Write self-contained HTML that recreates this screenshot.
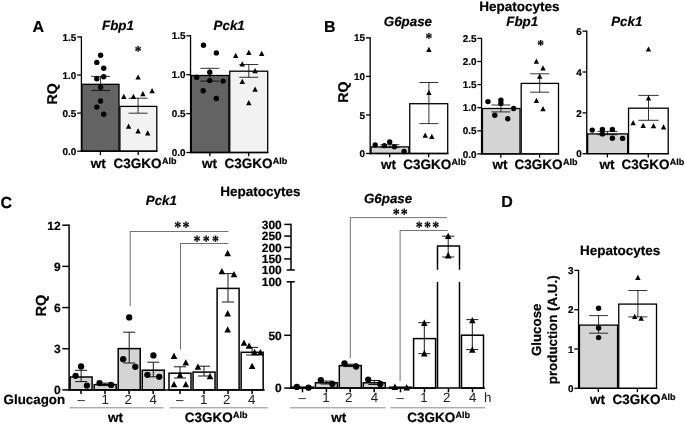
<!DOCTYPE html>
<html lang="en"><head><meta charset="utf-8"><title>Figure</title>
<style>
html,body{margin:0;padding:0;background:#fff;}
svg{display:block;font-family:"Liberation Sans", sans-serif;text-rendering:geometricPrecision;}
text[font-weight=bold]{stroke:#000;stroke-width:0.2px;}
</style></head>
<body>
<svg width="685" height="425" viewBox="0 0 685 425">
<rect x="0" y="0" width="685" height="425" fill="#ffffff"/>
<text x="32.60" y="32.00" font-size="16" font-weight="bold" font-style="normal" text-anchor="start" fill="#000">A</text>
<text x="102.00" y="30.40" font-size="13.33" font-weight="bold" font-style="italic" text-anchor="start" fill="#000">Fbp1</text>
<text transform="translate(56.70,93.80) rotate(-90)" font-size="14.2" font-weight="bold" text-anchor="middle">RQ</text>
<rect x="81.85" y="84.31" width="37.15" height="66.89" fill="#636363" stroke="#000" stroke-width="1.3"/>
<rect x="119.90" y="106.39" width="36.90" height="44.81" fill="#f2f2f2" stroke="#000" stroke-width="1.3"/>
<line x1="81.40" y1="36.32" x2="81.40" y2="151.85" stroke="#000" stroke-width="1.3" stroke-linecap="butt"/>
<line x1="77.20" y1="36.97" x2="81.40" y2="36.97" stroke="#000" stroke-width="1.3" stroke-linecap="butt"/>
<text x="76.30" y="40.62" font-size="9.9" font-weight="bold" font-style="normal" text-anchor="end" fill="#000">1.5</text>
<line x1="77.20" y1="75.05" x2="81.40" y2="75.05" stroke="#000" stroke-width="1.3" stroke-linecap="butt"/>
<text x="76.30" y="78.69" font-size="9.9" font-weight="bold" font-style="normal" text-anchor="end" fill="#000">1.0</text>
<line x1="77.20" y1="113.12" x2="81.40" y2="113.12" stroke="#000" stroke-width="1.3" stroke-linecap="butt"/>
<text x="76.30" y="116.77" font-size="9.9" font-weight="bold" font-style="normal" text-anchor="end" fill="#000">0.5</text>
<line x1="77.20" y1="151.20" x2="81.40" y2="151.20" stroke="#000" stroke-width="1.3" stroke-linecap="butt"/>
<text x="76.30" y="154.84" font-size="9.9" font-weight="bold" font-style="normal" text-anchor="end" fill="#000">0.0</text>
<line x1="80.75" y1="151.20" x2="157.45" y2="151.20" stroke="#000" stroke-width="1.3" stroke-linecap="butt"/>
<line x1="100.40" y1="151.20" x2="100.40" y2="155.00" stroke="#000" stroke-width="1.3" stroke-linecap="butt"/>
<line x1="138.20" y1="151.20" x2="138.20" y2="155.00" stroke="#000" stroke-width="1.3" stroke-linecap="butt"/>
<line x1="100.60" y1="76.40" x2="100.60" y2="90.40" stroke="#000" stroke-width="0.8" stroke-linecap="butt"/>
<line x1="91.10" y1="76.40" x2="110.10" y2="76.40" stroke="#000" stroke-width="0.8" stroke-linecap="butt"/>
<line x1="91.10" y1="90.40" x2="110.10" y2="90.40" stroke="#000" stroke-width="0.8" stroke-linecap="butt"/>
<circle cx="100.60" cy="55.20" r="2.7" fill="#000"/>
<circle cx="96.80" cy="62.40" r="2.7" fill="#000"/>
<circle cx="103.70" cy="68.20" r="2.7" fill="#000"/>
<circle cx="103.70" cy="76.70" r="2.7" fill="#000"/>
<circle cx="96.80" cy="78.80" r="2.7" fill="#000"/>
<circle cx="100.60" cy="87.30" r="2.7" fill="#000"/>
<circle cx="100.60" cy="101.00" r="2.7" fill="#000"/>
<circle cx="96.80" cy="107.10" r="2.7" fill="#000"/>
<circle cx="103.70" cy="114.30" r="2.7" fill="#000"/>
<line x1="138.10" y1="98.20" x2="138.10" y2="113.20" stroke="#000" stroke-width="0.8" stroke-linecap="butt"/>
<line x1="128.60" y1="98.20" x2="147.60" y2="98.20" stroke="#000" stroke-width="0.8" stroke-linecap="butt"/>
<line x1="128.60" y1="113.20" x2="147.60" y2="113.20" stroke="#000" stroke-width="0.8" stroke-linecap="butt"/>
<polygon points="138.10,74.40 135.40,79.61 140.80,79.61" fill="#000"/>
<polygon points="152.10,88.00 149.40,93.21 154.80,93.21" fill="#000"/>
<polygon points="123.80,93.80 121.10,99.01 126.50,99.01" fill="#000"/>
<polygon points="133.40,93.80 130.70,99.01 136.10,99.01" fill="#000"/>
<polygon points="142.90,91.10 140.20,96.31 145.60,96.31" fill="#000"/>
<polygon points="128.60,123.50 125.90,128.71 131.30,128.71" fill="#000"/>
<polygon points="138.10,128.30 135.40,133.51 140.80,133.51" fill="#000"/>
<polygon points="147.70,130.30 145.00,135.51 150.40,135.51" fill="#000"/>
<text transform="translate(138.00,49.00) scale(0.9,1.0)" x="0" y="7.12" font-size="15" font-weight="bold" text-anchor="middle" font-family='"Liberation Serif", "DejaVu Serif", serif'>*</text>
<text x="98.30" y="168.30" font-size="13.5" font-weight="bold" font-style="normal" text-anchor="middle" fill="#000">wt</text>
<text x="113.60" y="168.30" font-size="13.5" font-weight="bold" fill="#000">C3GKO<tspan font-size="9.0" dy="-4.0" dx="0.3">Alb</tspan></text>
<text x="213.60" y="30.20" font-size="13.33" font-weight="bold" font-style="italic" text-anchor="start" fill="#000">Pck1</text>
<rect x="191.35" y="75.50" width="37.50" height="77.00" fill="#636363" stroke="#000" stroke-width="1.3"/>
<rect x="229.75" y="71.20" width="37.95" height="81.30" fill="#f2f2f2" stroke="#000" stroke-width="1.3"/>
<line x1="190.55" y1="35.15" x2="190.55" y2="153.15" stroke="#000" stroke-width="1.3" stroke-linecap="butt"/>
<line x1="186.35" y1="35.80" x2="190.55" y2="35.80" stroke="#000" stroke-width="1.3" stroke-linecap="butt"/>
<text x="185.45" y="39.44" font-size="9.9" font-weight="bold" font-style="normal" text-anchor="end" fill="#000">1.5</text>
<line x1="186.35" y1="74.70" x2="190.55" y2="74.70" stroke="#000" stroke-width="1.3" stroke-linecap="butt"/>
<text x="185.45" y="78.34" font-size="9.9" font-weight="bold" font-style="normal" text-anchor="end" fill="#000">1.0</text>
<line x1="186.35" y1="113.60" x2="190.55" y2="113.60" stroke="#000" stroke-width="1.3" stroke-linecap="butt"/>
<text x="185.45" y="117.24" font-size="9.9" font-weight="bold" font-style="normal" text-anchor="end" fill="#000">0.5</text>
<line x1="186.35" y1="152.50" x2="190.55" y2="152.50" stroke="#000" stroke-width="1.3" stroke-linecap="butt"/>
<text x="185.45" y="156.14" font-size="9.9" font-weight="bold" font-style="normal" text-anchor="end" fill="#000">0.0</text>
<line x1="189.90" y1="152.50" x2="268.35" y2="152.50" stroke="#000" stroke-width="1.3" stroke-linecap="butt"/>
<line x1="209.90" y1="152.50" x2="209.90" y2="156.30" stroke="#000" stroke-width="1.3" stroke-linecap="butt"/>
<line x1="248.70" y1="152.50" x2="248.70" y2="156.30" stroke="#000" stroke-width="1.3" stroke-linecap="butt"/>
<line x1="209.80" y1="68.30" x2="209.80" y2="81.10" stroke="#000" stroke-width="0.8" stroke-linecap="butt"/>
<line x1="200.30" y1="68.30" x2="219.30" y2="68.30" stroke="#000" stroke-width="0.8" stroke-linecap="butt"/>
<line x1="200.30" y1="81.10" x2="219.30" y2="81.10" stroke="#000" stroke-width="0.8" stroke-linecap="butt"/>
<circle cx="203.50" cy="45.30" r="2.7" fill="#000"/>
<circle cx="216.30" cy="52.90" r="2.7" fill="#000"/>
<circle cx="209.80" cy="72.30" r="2.7" fill="#000"/>
<circle cx="196.70" cy="77.30" r="2.7" fill="#000"/>
<circle cx="209.80" cy="80.60" r="2.7" fill="#000"/>
<circle cx="223.10" cy="81.10" r="2.7" fill="#000"/>
<circle cx="203.20" cy="90.70" r="2.7" fill="#000"/>
<circle cx="216.30" cy="98.50" r="2.7" fill="#000"/>
<line x1="248.80" y1="64.50" x2="248.80" y2="77.30" stroke="#000" stroke-width="0.8" stroke-linecap="butt"/>
<line x1="239.30" y1="64.50" x2="258.30" y2="64.50" stroke="#000" stroke-width="0.8" stroke-linecap="butt"/>
<line x1="239.30" y1="77.30" x2="258.30" y2="77.30" stroke="#000" stroke-width="0.8" stroke-linecap="butt"/>
<polygon points="235.70,52.70 233.00,57.91 238.40,57.91" fill="#000"/>
<polygon points="248.80,49.70 246.10,54.91 251.50,54.91" fill="#000"/>
<polygon points="261.70,50.70 259.00,55.91 264.40,55.91" fill="#000"/>
<polygon points="242.30,61.30 239.60,66.51 245.00,66.51" fill="#000"/>
<polygon points="255.10,68.10 252.40,73.31 257.80,73.31" fill="#000"/>
<polygon points="242.30,78.70 239.60,83.91 245.00,83.91" fill="#000"/>
<polygon points="255.10,86.50 252.40,91.71 257.80,91.71" fill="#000"/>
<polygon points="248.80,100.10 246.10,105.31 251.50,105.31" fill="#000"/>
<text x="209.50" y="168.30" font-size="13.5" font-weight="bold" font-style="normal" text-anchor="middle" fill="#000">wt</text>
<text x="224.50" y="168.30" font-size="13.5" font-weight="bold" fill="#000">C3GKO<tspan font-size="9.0" dy="-4.0" dx="0.3">Alb</tspan></text>
<text x="323.90" y="32.00" font-size="16" font-weight="bold" font-style="normal" text-anchor="start" fill="#000">B</text>
<text x="479.30" y="10.60" font-size="13.5" font-weight="bold" font-style="normal" text-anchor="start" fill="#000">Hepatocytes</text>
<text x="383.80" y="26.40" font-size="13.33" font-weight="bold" font-style="italic" text-anchor="start" fill="#000">G6pase</text>
<text transform="translate(347.80,92.20) rotate(-90)" font-size="14.2" font-weight="bold" text-anchor="middle">RQ</text>
<rect x="371.05" y="146.90" width="37.80" height="6.60" fill="#d4d4d4" stroke="#000" stroke-width="1.3"/>
<rect x="409.75" y="103.70" width="37.95" height="49.80" fill="#ffffff" stroke="#000" stroke-width="1.3"/>
<line x1="370.15" y1="37.20" x2="370.15" y2="154.15" stroke="#000" stroke-width="1.3" stroke-linecap="butt"/>
<line x1="365.95" y1="37.85" x2="370.15" y2="37.85" stroke="#000" stroke-width="1.3" stroke-linecap="butt"/>
<text x="365.05" y="41.49" font-size="9.9" font-weight="bold" font-style="normal" text-anchor="end" fill="#000">15</text>
<line x1="365.95" y1="76.40" x2="370.15" y2="76.40" stroke="#000" stroke-width="1.3" stroke-linecap="butt"/>
<text x="365.05" y="80.04" font-size="9.9" font-weight="bold" font-style="normal" text-anchor="end" fill="#000">10</text>
<line x1="365.95" y1="114.95" x2="370.15" y2="114.95" stroke="#000" stroke-width="1.3" stroke-linecap="butt"/>
<text x="365.05" y="118.59" font-size="9.9" font-weight="bold" font-style="normal" text-anchor="end" fill="#000">5</text>
<line x1="365.95" y1="153.50" x2="370.15" y2="153.50" stroke="#000" stroke-width="1.3" stroke-linecap="butt"/>
<text x="365.05" y="157.14" font-size="9.9" font-weight="bold" font-style="normal" text-anchor="end" fill="#000">0</text>
<line x1="369.50" y1="153.50" x2="448.35" y2="153.50" stroke="#000" stroke-width="1.3" stroke-linecap="butt"/>
<line x1="389.70" y1="153.50" x2="389.70" y2="157.30" stroke="#000" stroke-width="1.3" stroke-linecap="butt"/>
<line x1="428.70" y1="153.50" x2="428.70" y2="157.30" stroke="#000" stroke-width="1.3" stroke-linecap="butt"/>
<line x1="389.90" y1="144.70" x2="389.90" y2="147.60" stroke="#000" stroke-width="0.8" stroke-linecap="butt"/>
<line x1="380.40" y1="144.70" x2="399.40" y2="144.70" stroke="#000" stroke-width="0.8" stroke-linecap="butt"/>
<line x1="380.40" y1="147.60" x2="399.40" y2="147.60" stroke="#000" stroke-width="0.8" stroke-linecap="butt"/>
<circle cx="375.20" cy="145.00" r="2.7" fill="#000"/>
<circle cx="384.40" cy="145.60" r="2.7" fill="#000"/>
<circle cx="389.70" cy="141.90" r="2.7" fill="#000"/>
<circle cx="394.40" cy="146.80" r="2.7" fill="#000"/>
<circle cx="404.10" cy="151.50" r="2.7" fill="#000"/>
<line x1="428.90" y1="82.50" x2="428.90" y2="123.60" stroke="#000" stroke-width="0.8" stroke-linecap="butt"/>
<line x1="419.40" y1="82.50" x2="438.40" y2="82.50" stroke="#000" stroke-width="0.8" stroke-linecap="butt"/>
<line x1="419.40" y1="123.60" x2="438.40" y2="123.60" stroke="#000" stroke-width="0.8" stroke-linecap="butt"/>
<polygon points="428.90,46.70 426.20,51.91 431.60,51.91" fill="#000"/>
<polygon points="428.90,89.90 426.20,95.11 431.60,95.11" fill="#000"/>
<polygon points="425.20,132.50 422.50,137.71 427.90,137.71" fill="#000"/>
<polygon points="431.80,133.80 429.10,139.01 434.50,139.01" fill="#000"/>
<text transform="translate(428.80,36.00) scale(0.9,1.0)" x="0" y="7.12" font-size="15" font-weight="bold" text-anchor="middle" font-family='"Liberation Serif", "DejaVu Serif", serif'>*</text>
<text x="388.50" y="168.70" font-size="13.5" font-weight="bold" font-style="normal" text-anchor="middle" fill="#000">wt</text>
<text x="403.30" y="168.70" font-size="13.5" font-weight="bold" fill="#000">C3GKO<tspan font-size="9.0" dy="-4.0" dx="0.3">Alb</tspan></text>
<text x="506.30" y="26.40" font-size="13.33" font-weight="bold" font-style="italic" text-anchor="start" fill="#000">Fbp1</text>
<rect x="482.45" y="108.50" width="37.55" height="45.40" fill="#d4d4d4" stroke="#000" stroke-width="1.3"/>
<rect x="521.20" y="83.40" width="37.30" height="70.50" fill="#ffffff" stroke="#000" stroke-width="1.3"/>
<line x1="481.55" y1="37.75" x2="481.55" y2="154.55" stroke="#000" stroke-width="1.3" stroke-linecap="butt"/>
<line x1="477.35" y1="38.40" x2="481.55" y2="38.40" stroke="#000" stroke-width="1.3" stroke-linecap="butt"/>
<text x="476.45" y="42.04" font-size="9.9" font-weight="bold" font-style="normal" text-anchor="end" fill="#000">2.5</text>
<line x1="477.35" y1="61.50" x2="481.55" y2="61.50" stroke="#000" stroke-width="1.3" stroke-linecap="butt"/>
<text x="476.45" y="65.14" font-size="9.9" font-weight="bold" font-style="normal" text-anchor="end" fill="#000">2.0</text>
<line x1="477.35" y1="84.60" x2="481.55" y2="84.60" stroke="#000" stroke-width="1.3" stroke-linecap="butt"/>
<text x="476.45" y="88.24" font-size="9.9" font-weight="bold" font-style="normal" text-anchor="end" fill="#000">1.5</text>
<line x1="477.35" y1="107.70" x2="481.55" y2="107.70" stroke="#000" stroke-width="1.3" stroke-linecap="butt"/>
<text x="476.45" y="111.34" font-size="9.9" font-weight="bold" font-style="normal" text-anchor="end" fill="#000">1.0</text>
<line x1="477.35" y1="130.80" x2="481.55" y2="130.80" stroke="#000" stroke-width="1.3" stroke-linecap="butt"/>
<text x="476.45" y="134.44" font-size="9.9" font-weight="bold" font-style="normal" text-anchor="end" fill="#000">0.5</text>
<line x1="477.35" y1="153.90" x2="481.55" y2="153.90" stroke="#000" stroke-width="1.3" stroke-linecap="butt"/>
<text x="476.45" y="157.54" font-size="9.9" font-weight="bold" font-style="normal" text-anchor="end" fill="#000">0.0</text>
<line x1="480.90" y1="153.90" x2="559.15" y2="153.90" stroke="#000" stroke-width="1.3" stroke-linecap="butt"/>
<line x1="500.80" y1="153.90" x2="500.80" y2="157.70" stroke="#000" stroke-width="1.3" stroke-linecap="butt"/>
<line x1="539.60" y1="153.90" x2="539.60" y2="157.70" stroke="#000" stroke-width="1.3" stroke-linecap="butt"/>
<line x1="500.90" y1="105.00" x2="500.90" y2="111.90" stroke="#000" stroke-width="0.8" stroke-linecap="butt"/>
<line x1="491.40" y1="105.00" x2="510.40" y2="105.00" stroke="#000" stroke-width="0.8" stroke-linecap="butt"/>
<line x1="491.40" y1="111.90" x2="510.40" y2="111.90" stroke="#000" stroke-width="0.8" stroke-linecap="butt"/>
<circle cx="488.00" cy="101.60" r="2.7" fill="#000"/>
<circle cx="500.90" cy="100.30" r="2.7" fill="#000"/>
<circle cx="500.90" cy="103.40" r="2.7" fill="#000"/>
<circle cx="513.60" cy="108.50" r="2.7" fill="#000"/>
<circle cx="494.80" cy="115.30" r="2.7" fill="#000"/>
<circle cx="507.80" cy="118.70" r="2.7" fill="#000"/>
<line x1="539.70" y1="73.80" x2="539.70" y2="92.20" stroke="#000" stroke-width="0.8" stroke-linecap="butt"/>
<line x1="530.20" y1="73.80" x2="549.20" y2="73.80" stroke="#000" stroke-width="0.8" stroke-linecap="butt"/>
<line x1="530.20" y1="92.20" x2="549.20" y2="92.20" stroke="#000" stroke-width="0.8" stroke-linecap="butt"/>
<polygon points="536.40,58.50 533.70,63.71 539.10,63.71" fill="#000"/>
<polygon points="543.00,65.30 540.30,70.51 545.70,70.51" fill="#000"/>
<polygon points="539.70,73.60 537.00,78.81 542.40,78.81" fill="#000"/>
<polygon points="536.40,97.80 533.70,103.01 539.10,103.01" fill="#000"/>
<polygon points="543.00,106.10 540.30,111.31 545.70,111.31" fill="#000"/>
<text transform="translate(540.70,43.00) scale(0.9,1.0)" x="0" y="7.12" font-size="15" font-weight="bold" text-anchor="middle" font-family='"Liberation Serif", "DejaVu Serif", serif'>*</text>
<text x="499.90" y="168.70" font-size="13.5" font-weight="bold" font-style="normal" text-anchor="middle" fill="#000">wt</text>
<text x="514.60" y="168.70" font-size="13.5" font-weight="bold" fill="#000">C3GKO<tspan font-size="9.0" dy="-4.0" dx="0.3">Alb</tspan></text>
<text x="611.20" y="26.40" font-size="13.33" font-weight="bold" font-style="italic" text-anchor="start" fill="#000">Pck1</text>
<rect x="587.65" y="133.90" width="40.00" height="19.80" fill="#d4d4d4" stroke="#000" stroke-width="1.3"/>
<rect x="628.55" y="108.20" width="39.65" height="45.50" fill="#ffffff" stroke="#000" stroke-width="1.3"/>
<line x1="586.75" y1="30.53" x2="586.75" y2="154.35" stroke="#000" stroke-width="1.3" stroke-linecap="butt"/>
<line x1="582.55" y1="31.18" x2="586.75" y2="31.18" stroke="#000" stroke-width="1.3" stroke-linecap="butt"/>
<text x="581.65" y="34.82" font-size="9.9" font-weight="bold" font-style="normal" text-anchor="end" fill="#000">6</text>
<line x1="582.55" y1="72.02" x2="586.75" y2="72.02" stroke="#000" stroke-width="1.3" stroke-linecap="butt"/>
<text x="581.65" y="75.66" font-size="9.9" font-weight="bold" font-style="normal" text-anchor="end" fill="#000">4</text>
<line x1="582.55" y1="112.86" x2="586.75" y2="112.86" stroke="#000" stroke-width="1.3" stroke-linecap="butt"/>
<text x="581.65" y="116.50" font-size="9.9" font-weight="bold" font-style="normal" text-anchor="end" fill="#000">2</text>
<line x1="582.55" y1="153.70" x2="586.75" y2="153.70" stroke="#000" stroke-width="1.3" stroke-linecap="butt"/>
<text x="581.65" y="157.34" font-size="9.9" font-weight="bold" font-style="normal" text-anchor="end" fill="#000">0</text>
<line x1="586.10" y1="153.70" x2="668.85" y2="153.70" stroke="#000" stroke-width="1.3" stroke-linecap="butt"/>
<line x1="607.40" y1="153.70" x2="607.40" y2="157.50" stroke="#000" stroke-width="1.3" stroke-linecap="butt"/>
<line x1="648.30" y1="153.70" x2="648.30" y2="157.50" stroke="#000" stroke-width="1.3" stroke-linecap="butt"/>
<line x1="607.50" y1="131.40" x2="607.50" y2="134.70" stroke="#000" stroke-width="0.8" stroke-linecap="butt"/>
<line x1="597.50" y1="131.40" x2="617.50" y2="131.40" stroke="#000" stroke-width="0.8" stroke-linecap="butt"/>
<line x1="597.50" y1="134.70" x2="617.50" y2="134.70" stroke="#000" stroke-width="0.8" stroke-linecap="butt"/>
<circle cx="592.20" cy="130.10" r="2.7" fill="#000"/>
<circle cx="602.40" cy="129.40" r="2.7" fill="#000"/>
<circle cx="602.40" cy="133.90" r="2.7" fill="#000"/>
<circle cx="612.40" cy="129.40" r="2.7" fill="#000"/>
<circle cx="612.40" cy="138.30" r="2.7" fill="#000"/>
<circle cx="622.60" cy="138.40" r="2.7" fill="#000"/>
<line x1="648.50" y1="95.40" x2="648.50" y2="120.30" stroke="#000" stroke-width="0.8" stroke-linecap="butt"/>
<line x1="638.30" y1="95.40" x2="658.70" y2="95.40" stroke="#000" stroke-width="0.8" stroke-linecap="butt"/>
<line x1="638.30" y1="120.30" x2="658.70" y2="120.30" stroke="#000" stroke-width="0.8" stroke-linecap="butt"/>
<polygon points="648.50,46.40 645.80,51.61 651.20,51.61" fill="#000"/>
<polygon points="648.50,95.40 645.80,100.61 651.20,100.61" fill="#000"/>
<polygon points="633.20,120.10 630.50,125.31 635.90,125.31" fill="#000"/>
<polygon points="643.20,122.70 640.50,127.91 645.90,127.91" fill="#000"/>
<polygon points="653.50,123.00 650.80,128.21 656.20,128.21" fill="#000"/>
<polygon points="663.60,124.30 660.90,129.51 666.30,129.51" fill="#000"/>
<text x="606.90" y="168.70" font-size="13.5" font-weight="bold" font-style="normal" text-anchor="middle" fill="#000">wt</text>
<text x="621.40" y="168.70" font-size="13.5" font-weight="bold" fill="#000">C3GKO<tspan font-size="9.0" dy="-4.0" dx="0.3">Alb</tspan></text>
<text x="0.60" y="208.00" font-size="16" font-weight="bold" font-style="normal" text-anchor="start" fill="#000">C</text>
<text x="220.20" y="195.60" font-size="13.5" font-weight="bold" font-style="normal" text-anchor="start" fill="#000">Hepatocytes</text>
<text x="145.80" y="205.20" font-size="13.33" font-weight="bold" font-style="italic" text-anchor="start" fill="#000">Pck1</text>
<text transform="translate(45.60,305.60) rotate(-90)" font-size="14.67" font-weight="bold" text-anchor="middle">RQ</text>
<rect x="70.10" y="377.00" width="22.00" height="12.90" fill="#d4d4d4" stroke="#000" stroke-width="1.5"/>
<rect x="94.15" y="384.60" width="22.00" height="5.30" fill="#d4d4d4" stroke="#000" stroke-width="1.5"/>
<rect x="118.20" y="348.60" width="22.00" height="41.30" fill="#d4d4d4" stroke="#000" stroke-width="1.5"/>
<rect x="142.25" y="370.20" width="22.00" height="19.70" fill="#d4d4d4" stroke="#000" stroke-width="1.5"/>
<rect x="169.00" y="373.20" width="22.00" height="16.70" fill="#ffffff" stroke="#000" stroke-width="1.5"/>
<rect x="193.05" y="372.10" width="22.00" height="17.80" fill="#ffffff" stroke="#000" stroke-width="1.5"/>
<rect x="217.10" y="288.40" width="22.00" height="101.50" fill="#ffffff" stroke="#000" stroke-width="1.5"/>
<rect x="241.15" y="352.30" width="22.00" height="37.60" fill="#ffffff" stroke="#000" stroke-width="1.5"/>
<line x1="69.10" y1="224.45" x2="69.10" y2="390.65" stroke="#000" stroke-width="1.5" stroke-linecap="butt"/>
<line x1="62.30" y1="225.20" x2="69.10" y2="225.20" stroke="#000" stroke-width="1.5" stroke-linecap="butt"/>
<text x="60.70" y="229.60" font-size="12" font-weight="bold" font-style="normal" text-anchor="end" fill="#000">12</text>
<line x1="62.30" y1="266.38" x2="69.10" y2="266.38" stroke="#000" stroke-width="1.5" stroke-linecap="butt"/>
<text x="60.70" y="270.77" font-size="12" font-weight="bold" font-style="normal" text-anchor="end" fill="#000">9</text>
<line x1="62.30" y1="307.55" x2="69.10" y2="307.55" stroke="#000" stroke-width="1.5" stroke-linecap="butt"/>
<text x="60.70" y="311.95" font-size="12" font-weight="bold" font-style="normal" text-anchor="end" fill="#000">6</text>
<line x1="62.30" y1="348.72" x2="69.10" y2="348.72" stroke="#000" stroke-width="1.5" stroke-linecap="butt"/>
<text x="60.70" y="353.12" font-size="12" font-weight="bold" font-style="normal" text-anchor="end" fill="#000">3</text>
<line x1="62.30" y1="389.90" x2="69.10" y2="389.90" stroke="#000" stroke-width="1.5" stroke-linecap="butt"/>
<text x="60.70" y="394.30" font-size="12" font-weight="bold" font-style="normal" text-anchor="end" fill="#000">0</text>
<line x1="68.35" y1="389.90" x2="264.70" y2="389.90" stroke="#000" stroke-width="1.5" stroke-linecap="butt"/>
<line x1="81.00" y1="389.90" x2="81.00" y2="394.10" stroke="#000" stroke-width="1.5" stroke-linecap="butt"/>
<line x1="105.00" y1="389.90" x2="105.00" y2="394.10" stroke="#000" stroke-width="1.5" stroke-linecap="butt"/>
<line x1="129.10" y1="389.90" x2="129.10" y2="394.10" stroke="#000" stroke-width="1.5" stroke-linecap="butt"/>
<line x1="153.20" y1="389.90" x2="153.20" y2="394.10" stroke="#000" stroke-width="1.5" stroke-linecap="butt"/>
<line x1="180.00" y1="389.90" x2="180.00" y2="394.10" stroke="#000" stroke-width="1.5" stroke-linecap="butt"/>
<line x1="204.00" y1="389.90" x2="204.00" y2="394.10" stroke="#000" stroke-width="1.5" stroke-linecap="butt"/>
<line x1="228.00" y1="389.90" x2="228.00" y2="394.10" stroke="#000" stroke-width="1.5" stroke-linecap="butt"/>
<line x1="252.10" y1="389.90" x2="252.10" y2="394.10" stroke="#000" stroke-width="1.5" stroke-linecap="butt"/>
<line x1="130.20" y1="231.50" x2="228.40" y2="231.50" stroke="#444" stroke-width="0.75" stroke-linecap="butt"/>
<line x1="130.20" y1="231.20" x2="130.20" y2="306.00" stroke="#444" stroke-width="0.75" stroke-linecap="butt"/>
<line x1="180.50" y1="243.50" x2="228.40" y2="243.50" stroke="#444" stroke-width="0.75" stroke-linecap="butt"/>
<line x1="180.50" y1="243.20" x2="180.50" y2="349.60" stroke="#444" stroke-width="0.75" stroke-linecap="butt"/>
<text transform="translate(177.80,224.85) scale(0.9,1.0)" x="0" y="7.36" font-size="15.5" font-weight="bold" text-anchor="middle" font-family='"Liberation Serif", "DejaVu Serif", serif'>*</text>
<text transform="translate(186.00,224.85) scale(0.9,1.0)" x="0" y="7.36" font-size="15.5" font-weight="bold" text-anchor="middle" font-family='"Liberation Serif", "DejaVu Serif", serif'>*</text>
<text transform="translate(197.10,238.40) scale(0.9,1.0)" x="0" y="7.36" font-size="15.5" font-weight="bold" text-anchor="middle" font-family='"Liberation Serif", "DejaVu Serif", serif'>*</text>
<text transform="translate(206.30,238.40) scale(0.9,1.0)" x="0" y="7.36" font-size="15.5" font-weight="bold" text-anchor="middle" font-family='"Liberation Serif", "DejaVu Serif", serif'>*</text>
<text transform="translate(215.50,238.40) scale(0.9,1.0)" x="0" y="7.36" font-size="15.5" font-weight="bold" text-anchor="middle" font-family='"Liberation Serif", "DejaVu Serif", serif'>*</text>
<line x1="81.10" y1="370.30" x2="81.10" y2="381.60" stroke="#000" stroke-width="0.9" stroke-linecap="butt"/>
<line x1="75.10" y1="370.30" x2="87.10" y2="370.30" stroke="#000" stroke-width="0.9" stroke-linecap="butt"/>
<line x1="75.10" y1="381.60" x2="87.10" y2="381.60" stroke="#000" stroke-width="0.9" stroke-linecap="butt"/>
<line x1="105.10" y1="383.10" x2="105.10" y2="385.60" stroke="#000" stroke-width="0.9" stroke-linecap="butt"/>
<line x1="99.10" y1="383.10" x2="111.10" y2="383.10" stroke="#000" stroke-width="0.9" stroke-linecap="butt"/>
<line x1="99.10" y1="385.60" x2="111.10" y2="385.60" stroke="#000" stroke-width="0.9" stroke-linecap="butt"/>
<line x1="129.20" y1="332.20" x2="129.20" y2="363.00" stroke="#000" stroke-width="0.9" stroke-linecap="butt"/>
<line x1="123.20" y1="332.20" x2="135.20" y2="332.20" stroke="#000" stroke-width="0.9" stroke-linecap="butt"/>
<line x1="123.20" y1="363.00" x2="135.20" y2="363.00" stroke="#000" stroke-width="0.9" stroke-linecap="butt"/>
<line x1="153.30" y1="362.20" x2="153.30" y2="376.80" stroke="#000" stroke-width="0.9" stroke-linecap="butt"/>
<line x1="147.30" y1="362.20" x2="159.30" y2="362.20" stroke="#000" stroke-width="0.9" stroke-linecap="butt"/>
<line x1="147.30" y1="376.80" x2="159.30" y2="376.80" stroke="#000" stroke-width="0.9" stroke-linecap="butt"/>
<line x1="180.00" y1="366.80" x2="180.00" y2="378.00" stroke="#000" stroke-width="0.9" stroke-linecap="butt"/>
<line x1="174.00" y1="366.80" x2="186.00" y2="366.80" stroke="#000" stroke-width="0.9" stroke-linecap="butt"/>
<line x1="174.00" y1="378.00" x2="186.00" y2="378.00" stroke="#000" stroke-width="0.9" stroke-linecap="butt"/>
<line x1="204.00" y1="366.20" x2="204.00" y2="376.00" stroke="#000" stroke-width="0.9" stroke-linecap="butt"/>
<line x1="198.00" y1="366.20" x2="210.00" y2="366.20" stroke="#000" stroke-width="0.9" stroke-linecap="butt"/>
<line x1="198.00" y1="376.00" x2="210.00" y2="376.00" stroke="#000" stroke-width="0.9" stroke-linecap="butt"/>
<line x1="228.00" y1="273.60" x2="228.00" y2="302.00" stroke="#000" stroke-width="0.9" stroke-linecap="butt"/>
<line x1="222.00" y1="273.60" x2="234.00" y2="273.60" stroke="#000" stroke-width="0.9" stroke-linecap="butt"/>
<line x1="222.00" y1="302.00" x2="234.00" y2="302.00" stroke="#000" stroke-width="0.9" stroke-linecap="butt"/>
<line x1="252.10" y1="347.40" x2="252.10" y2="355.00" stroke="#000" stroke-width="0.9" stroke-linecap="butt"/>
<line x1="246.10" y1="347.40" x2="258.10" y2="347.40" stroke="#000" stroke-width="0.9" stroke-linecap="butt"/>
<line x1="246.10" y1="355.00" x2="258.10" y2="355.00" stroke="#000" stroke-width="0.9" stroke-linecap="butt"/>
<circle cx="81.10" cy="366.50" r="3.15" fill="#000"/>
<circle cx="75.60" cy="375.80" r="3.15" fill="#000"/>
<circle cx="86.90" cy="385.60" r="3.15" fill="#000"/>
<circle cx="99.50" cy="383.10" r="3.15" fill="#000"/>
<circle cx="111.10" cy="384.90" r="3.15" fill="#000"/>
<circle cx="129.20" cy="317.40" r="3.15" fill="#000"/>
<circle cx="123.20" cy="359.20" r="3.15" fill="#000"/>
<circle cx="135.30" cy="366.80" r="3.15" fill="#000"/>
<circle cx="153.40" cy="355.40" r="3.15" fill="#000"/>
<circle cx="147.40" cy="374.80" r="3.15" fill="#000"/>
<circle cx="159.20" cy="376.80" r="3.15" fill="#000"/>
<polygon points="174.00,352.60 170.70,358.97 177.30,358.97" fill="#000"/>
<polygon points="185.80,359.20 182.50,365.57 189.10,365.57" fill="#000"/>
<polygon points="180.00,371.50 176.70,377.87 183.30,377.87" fill="#000"/>
<polygon points="174.00,380.90 170.70,387.27 177.30,387.27" fill="#000"/>
<polygon points="185.80,380.90 182.50,387.27 189.10,387.27" fill="#000"/>
<polygon points="197.90,363.50 194.60,369.87 201.20,369.87" fill="#000"/>
<polygon points="210.00,372.80 206.70,379.17 213.30,379.17" fill="#000"/>
<polygon points="227.70,249.80 224.40,256.17 231.00,256.17" fill="#000"/>
<polygon points="221.90,268.00 218.60,274.37 225.20,274.37" fill="#000"/>
<polygon points="234.00,271.00 230.70,277.37 237.30,277.37" fill="#000"/>
<polygon points="227.70,310.10 224.40,316.47 231.00,316.47" fill="#000"/>
<polygon points="227.70,326.20 224.40,332.57 231.00,332.57" fill="#000"/>
<polygon points="244.00,339.50 240.70,345.87 247.30,345.87" fill="#000"/>
<polygon points="249.10,342.50 245.80,348.87 252.40,348.87" fill="#000"/>
<polygon points="254.60,348.80 251.30,355.17 257.90,355.17" fill="#000"/>
<polygon points="260.40,349.10 257.10,355.47 263.70,355.47" fill="#000"/>
<polygon points="252.10,362.70 248.80,369.07 255.40,369.07" fill="#000"/>
<text x="3.60" y="404.00" font-size="13.33" font-weight="bold" font-style="normal" text-anchor="start" fill="#000">Glucagon</text>
<text x="81.10" y="404.30" font-size="13.33" font-weight="normal" font-style="normal" text-anchor="middle" fill="#222">–</text>
<text x="105.30" y="404.30" font-size="13.33" font-weight="normal" font-style="normal" text-anchor="middle" fill="#222">1</text>
<text x="128.30" y="404.30" font-size="13.33" font-weight="normal" font-style="normal" text-anchor="middle" fill="#222">2</text>
<text x="153.20" y="404.30" font-size="13.33" font-weight="normal" font-style="normal" text-anchor="middle" fill="#222">4</text>
<text x="179.80" y="404.30" font-size="13.33" font-weight="normal" font-style="normal" text-anchor="middle" fill="#222">–</text>
<text x="203.80" y="404.30" font-size="13.33" font-weight="normal" font-style="normal" text-anchor="middle" fill="#222">1</text>
<text x="226.60" y="404.30" font-size="13.33" font-weight="normal" font-style="normal" text-anchor="middle" fill="#222">2</text>
<text x="251.80" y="404.30" font-size="13.33" font-weight="normal" font-style="normal" text-anchor="middle" fill="#222">4</text>
<line x1="69.50" y1="407.80" x2="163.50" y2="407.80" stroke="#8a8a8a" stroke-width="1.0" stroke-linecap="butt"/>
<line x1="169.70" y1="407.80" x2="267.80" y2="407.80" stroke="#8a8a8a" stroke-width="1.0" stroke-linecap="butt"/>
<text x="115.60" y="422.10" font-size="13.5" font-weight="bold" font-style="normal" text-anchor="middle" fill="#000">wt</text>
<text x="184.80" y="422.10" font-size="13.5" font-weight="bold" fill="#000">C3GKO<tspan font-size="9.0" dy="-4.0" dx="0.3">Alb</tspan></text>
<text x="364.00" y="203.20" font-size="13.33" font-weight="bold" font-style="italic" text-anchor="start" fill="#000">G6pase</text>
<rect x="291.40" y="387.20" width="22.00" height="0.90" fill="#d4d4d4" stroke="#000" stroke-width="1.5"/>
<rect x="315.40" y="382.80" width="22.00" height="5.30" fill="#d4d4d4" stroke="#000" stroke-width="1.5"/>
<rect x="339.30" y="365.60" width="22.00" height="22.50" fill="#d4d4d4" stroke="#000" stroke-width="1.5"/>
<rect x="363.30" y="382.80" width="22.00" height="5.30" fill="#d4d4d4" stroke="#000" stroke-width="1.5"/>
<rect x="389.60" y="387.20" width="22.00" height="0.90" fill="#ffffff" stroke="#000" stroke-width="1.5"/>
<rect x="413.60" y="338.60" width="22.00" height="49.50" fill="#ffffff" stroke="#000" stroke-width="1.5"/>
<rect x="461.50" y="335.20" width="22.00" height="52.90" fill="#ffffff" stroke="#000" stroke-width="1.5"/>
<path d="M437.50,388.1 V282.1 M459.50,388.1 V282.1 M437.50,269.8 V245.9 H459.50 V269.8" fill="none" stroke="#000" stroke-width="1.5"/>
<line x1="291.00" y1="281.80" x2="291.00" y2="388.85" stroke="#000" stroke-width="1.5" stroke-linecap="butt"/>
<line x1="286.70" y1="281.80" x2="294.80" y2="281.80" stroke="#000" stroke-width="1.5" stroke-linecap="butt"/>
<line x1="284.20" y1="335.30" x2="291.00" y2="335.30" stroke="#000" stroke-width="1.5" stroke-linecap="butt"/>
<text x="281.80" y="339.60" font-size="12" font-weight="bold" font-style="normal" text-anchor="end" fill="#000">50</text>
<line x1="284.20" y1="388.10" x2="291.00" y2="388.10" stroke="#000" stroke-width="1.5" stroke-linecap="butt"/>
<text x="281.80" y="392.40" font-size="12" font-weight="bold" font-style="normal" text-anchor="end" fill="#000">0</text>
<text x="281.80" y="286.10" font-size="12" font-weight="bold" font-style="normal" text-anchor="end" fill="#000">100</text>
<line x1="291.00" y1="223.65" x2="291.00" y2="270.00" stroke="#000" stroke-width="1.5" stroke-linecap="butt"/>
<line x1="286.70" y1="270.00" x2="294.80" y2="270.00" stroke="#000" stroke-width="1.5" stroke-linecap="butt"/>
<line x1="284.20" y1="224.40" x2="291.00" y2="224.40" stroke="#000" stroke-width="1.5" stroke-linecap="butt"/>
<text x="281.80" y="228.70" font-size="12" font-weight="bold" font-style="normal" text-anchor="end" fill="#000">300</text>
<line x1="284.20" y1="236.10" x2="291.00" y2="236.10" stroke="#000" stroke-width="1.5" stroke-linecap="butt"/>
<text x="281.80" y="240.40" font-size="12" font-weight="bold" font-style="normal" text-anchor="end" fill="#000">250</text>
<line x1="284.20" y1="247.40" x2="291.00" y2="247.40" stroke="#000" stroke-width="1.5" stroke-linecap="butt"/>
<text x="281.80" y="251.70" font-size="12" font-weight="bold" font-style="normal" text-anchor="end" fill="#000">200</text>
<line x1="284.20" y1="258.90" x2="291.00" y2="258.90" stroke="#000" stroke-width="1.5" stroke-linecap="butt"/>
<text x="281.80" y="263.20" font-size="12" font-weight="bold" font-style="normal" text-anchor="end" fill="#000">150</text>
<text x="281.80" y="274.30" font-size="12" font-weight="bold" font-style="normal" text-anchor="end" fill="#000">100</text>
<line x1="290.25" y1="388.10" x2="484.90" y2="388.10" stroke="#000" stroke-width="1.5" stroke-linecap="butt"/>
<line x1="302.50" y1="388.10" x2="302.50" y2="392.30" stroke="#000" stroke-width="1.5" stroke-linecap="butt"/>
<line x1="326.40" y1="388.10" x2="326.40" y2="392.30" stroke="#000" stroke-width="1.5" stroke-linecap="butt"/>
<line x1="350.20" y1="388.10" x2="350.20" y2="392.30" stroke="#000" stroke-width="1.5" stroke-linecap="butt"/>
<line x1="374.20" y1="388.10" x2="374.20" y2="392.30" stroke="#000" stroke-width="1.5" stroke-linecap="butt"/>
<line x1="400.50" y1="388.10" x2="400.50" y2="392.30" stroke="#000" stroke-width="1.5" stroke-linecap="butt"/>
<line x1="424.50" y1="388.10" x2="424.50" y2="392.30" stroke="#000" stroke-width="1.5" stroke-linecap="butt"/>
<line x1="448.50" y1="388.10" x2="448.50" y2="392.30" stroke="#000" stroke-width="1.5" stroke-linecap="butt"/>
<line x1="472.50" y1="388.10" x2="472.50" y2="392.30" stroke="#000" stroke-width="1.5" stroke-linecap="butt"/>
<line x1="350.30" y1="217.60" x2="447.10" y2="217.60" stroke="#444" stroke-width="0.75" stroke-linecap="butt"/>
<line x1="350.30" y1="217.30" x2="350.30" y2="358.00" stroke="#444" stroke-width="0.75" stroke-linecap="butt"/>
<line x1="400.10" y1="230.50" x2="447.70" y2="230.50" stroke="#444" stroke-width="0.75" stroke-linecap="butt"/>
<line x1="400.10" y1="230.20" x2="400.10" y2="381.00" stroke="#444" stroke-width="0.75" stroke-linecap="butt"/>
<text transform="translate(396.30,212.05) scale(0.9,1.0)" x="0" y="7.36" font-size="15.5" font-weight="bold" text-anchor="middle" font-family='"Liberation Serif", "DejaVu Serif", serif'>*</text>
<text transform="translate(404.30,212.05) scale(0.9,1.0)" x="0" y="7.36" font-size="15.5" font-weight="bold" text-anchor="middle" font-family='"Liberation Serif", "DejaVu Serif", serif'>*</text>
<text transform="translate(419.20,224.60) scale(0.9,1.0)" x="0" y="7.36" font-size="15.5" font-weight="bold" text-anchor="middle" font-family='"Liberation Serif", "DejaVu Serif", serif'>*</text>
<text transform="translate(427.50,224.60) scale(0.9,1.0)" x="0" y="7.36" font-size="15.5" font-weight="bold" text-anchor="middle" font-family='"Liberation Serif", "DejaVu Serif", serif'>*</text>
<text transform="translate(435.80,224.60) scale(0.9,1.0)" x="0" y="7.36" font-size="15.5" font-weight="bold" text-anchor="middle" font-family='"Liberation Serif", "DejaVu Serif", serif'>*</text>
<line x1="326.60" y1="381.10" x2="326.60" y2="384.00" stroke="#000" stroke-width="0.9" stroke-linecap="butt"/>
<line x1="320.60" y1="381.10" x2="332.60" y2="381.10" stroke="#000" stroke-width="0.9" stroke-linecap="butt"/>
<line x1="320.60" y1="384.00" x2="332.60" y2="384.00" stroke="#000" stroke-width="0.9" stroke-linecap="butt"/>
<line x1="350.30" y1="364.20" x2="350.30" y2="366.60" stroke="#000" stroke-width="0.9" stroke-linecap="butt"/>
<line x1="344.30" y1="364.20" x2="356.30" y2="364.20" stroke="#000" stroke-width="0.9" stroke-linecap="butt"/>
<line x1="344.30" y1="366.60" x2="356.30" y2="366.60" stroke="#000" stroke-width="0.9" stroke-linecap="butt"/>
<line x1="374.30" y1="380.50" x2="374.30" y2="384.50" stroke="#000" stroke-width="0.9" stroke-linecap="butt"/>
<line x1="368.30" y1="380.50" x2="380.30" y2="380.50" stroke="#000" stroke-width="0.9" stroke-linecap="butt"/>
<line x1="368.30" y1="384.50" x2="380.30" y2="384.50" stroke="#000" stroke-width="0.9" stroke-linecap="butt"/>
<line x1="424.30" y1="322.70" x2="424.30" y2="353.70" stroke="#000" stroke-width="0.9" stroke-linecap="butt"/>
<line x1="418.30" y1="322.70" x2="430.30" y2="322.70" stroke="#000" stroke-width="0.9" stroke-linecap="butt"/>
<line x1="418.30" y1="353.70" x2="430.30" y2="353.70" stroke="#000" stroke-width="0.9" stroke-linecap="butt"/>
<line x1="448.20" y1="236.20" x2="448.20" y2="257.00" stroke="#000" stroke-width="0.9" stroke-linecap="butt"/>
<line x1="442.20" y1="236.20" x2="454.20" y2="236.20" stroke="#000" stroke-width="0.9" stroke-linecap="butt"/>
<line x1="442.20" y1="257.00" x2="454.20" y2="257.00" stroke="#000" stroke-width="0.9" stroke-linecap="butt"/>
<line x1="472.30" y1="319.60" x2="472.30" y2="349.60" stroke="#000" stroke-width="0.9" stroke-linecap="butt"/>
<line x1="466.30" y1="319.60" x2="478.30" y2="319.60" stroke="#000" stroke-width="0.9" stroke-linecap="butt"/>
<line x1="466.30" y1="349.60" x2="478.30" y2="349.60" stroke="#000" stroke-width="0.9" stroke-linecap="butt"/>
<circle cx="296.90" cy="386.90" r="3.15" fill="#000"/>
<circle cx="308.50" cy="387.70" r="3.15" fill="#000"/>
<circle cx="320.80" cy="380.10" r="3.15" fill="#000"/>
<circle cx="332.40" cy="383.90" r="3.15" fill="#000"/>
<circle cx="344.50" cy="363.50" r="3.15" fill="#000"/>
<circle cx="356.10" cy="366.50" r="3.15" fill="#000"/>
<circle cx="368.20" cy="379.60" r="3.15" fill="#000"/>
<circle cx="380.30" cy="383.90" r="3.15" fill="#000"/>
<polygon points="394.90,383.60 391.60,389.97 398.20,389.97" fill="#000"/>
<polygon points="406.70,384.10 403.40,390.47 410.00,390.47" fill="#000"/>
<polygon points="424.30,319.60 421.00,325.97 427.60,325.97" fill="#000"/>
<polygon points="424.30,350.10 421.00,356.47 427.60,356.47" fill="#000"/>
<polygon points="448.20,232.70 444.90,239.07 451.50,239.07" fill="#000"/>
<polygon points="448.20,252.10 444.90,258.47 451.50,258.47" fill="#000"/>
<polygon points="472.30,316.90 469.00,323.27 475.60,323.27" fill="#000"/>
<polygon points="472.30,346.30 469.00,352.67 475.60,352.67" fill="#000"/>
<text x="302.20" y="401.70" font-size="13.33" font-weight="normal" font-style="normal" text-anchor="middle" fill="#222">–</text>
<text x="326.00" y="401.70" font-size="13.33" font-weight="normal" font-style="normal" text-anchor="middle" fill="#222">1</text>
<text x="348.60" y="401.70" font-size="13.33" font-weight="normal" font-style="normal" text-anchor="middle" fill="#222">2</text>
<text x="374.40" y="401.70" font-size="13.33" font-weight="normal" font-style="normal" text-anchor="middle" fill="#222">4</text>
<text x="400.20" y="401.70" font-size="13.33" font-weight="normal" font-style="normal" text-anchor="middle" fill="#222">–</text>
<text x="424.00" y="401.70" font-size="13.33" font-weight="normal" font-style="normal" text-anchor="middle" fill="#222">1</text>
<text x="446.60" y="401.70" font-size="13.33" font-weight="normal" font-style="normal" text-anchor="middle" fill="#222">2</text>
<text x="472.60" y="401.70" font-size="13.33" font-weight="normal" font-style="normal" text-anchor="middle" fill="#222">4</text>
<text x="487.70" y="401.70" font-size="13.33" font-weight="normal" font-style="normal" text-anchor="middle" fill="#222">h</text>
<line x1="290.20" y1="407.80" x2="385.50" y2="407.80" stroke="#8a8a8a" stroke-width="1.0" stroke-linecap="butt"/>
<line x1="390.40" y1="407.80" x2="485.20" y2="407.80" stroke="#8a8a8a" stroke-width="1.0" stroke-linecap="butt"/>
<text x="338.70" y="422.10" font-size="13.5" font-weight="bold" font-style="normal" text-anchor="middle" fill="#000">wt</text>
<text x="407.20" y="422.10" font-size="13.5" font-weight="bold" fill="#000">C3GKO<tspan font-size="9.0" dy="-4.0" dx="0.3">Alb</tspan></text>
<text x="501.30" y="207.10" font-size="16" font-weight="bold" font-style="normal" text-anchor="start" fill="#000">D</text>
<text x="579.90" y="254.70" font-size="13.5" font-weight="bold" font-style="normal" text-anchor="start" fill="#000">Hepatocytes</text>
<rect x="579.45" y="325.10" width="38.10" height="63.20" fill="#d4d4d4" stroke="#000" stroke-width="1.3"/>
<rect x="618.75" y="304.10" width="37.75" height="84.20" fill="#ffffff" stroke="#000" stroke-width="1.3"/>
<line x1="578.55" y1="269.75" x2="578.55" y2="388.95" stroke="#000" stroke-width="1.3" stroke-linecap="butt"/>
<line x1="574.35" y1="270.40" x2="578.55" y2="270.40" stroke="#000" stroke-width="1.3" stroke-linecap="butt"/>
<text x="573.45" y="274.04" font-size="9.9" font-weight="bold" font-style="normal" text-anchor="end" fill="#000">3</text>
<line x1="574.35" y1="309.70" x2="578.55" y2="309.70" stroke="#000" stroke-width="1.3" stroke-linecap="butt"/>
<text x="573.45" y="313.34" font-size="9.9" font-weight="bold" font-style="normal" text-anchor="end" fill="#000">2</text>
<line x1="574.35" y1="349.00" x2="578.55" y2="349.00" stroke="#000" stroke-width="1.3" stroke-linecap="butt"/>
<text x="573.45" y="352.64" font-size="9.9" font-weight="bold" font-style="normal" text-anchor="end" fill="#000">1</text>
<line x1="574.35" y1="388.30" x2="578.55" y2="388.30" stroke="#000" stroke-width="1.3" stroke-linecap="butt"/>
<text x="573.45" y="391.94" font-size="9.9" font-weight="bold" font-style="normal" text-anchor="end" fill="#000">0</text>
<line x1="577.90" y1="388.30" x2="657.15" y2="388.30" stroke="#000" stroke-width="1.3" stroke-linecap="butt"/>
<line x1="598.30" y1="388.30" x2="598.30" y2="392.10" stroke="#000" stroke-width="1.3" stroke-linecap="butt"/>
<line x1="637.40" y1="388.30" x2="637.40" y2="392.10" stroke="#000" stroke-width="1.3" stroke-linecap="butt"/>
<line x1="598.60" y1="315.60" x2="598.60" y2="333.20" stroke="#000" stroke-width="0.8" stroke-linecap="butt"/>
<line x1="589.10" y1="315.60" x2="608.10" y2="315.60" stroke="#000" stroke-width="0.8" stroke-linecap="butt"/>
<line x1="589.10" y1="333.20" x2="608.10" y2="333.20" stroke="#000" stroke-width="0.8" stroke-linecap="butt"/>
<circle cx="598.60" cy="308.30" r="2.7" fill="#000"/>
<circle cx="598.60" cy="328.00" r="2.7" fill="#000"/>
<circle cx="598.60" cy="337.60" r="2.7" fill="#000"/>
<line x1="637.90" y1="290.50" x2="637.90" y2="316.90" stroke="#000" stroke-width="0.8" stroke-linecap="butt"/>
<line x1="628.40" y1="290.50" x2="647.40" y2="290.50" stroke="#000" stroke-width="0.8" stroke-linecap="butt"/>
<line x1="628.40" y1="316.90" x2="647.40" y2="316.90" stroke="#000" stroke-width="0.8" stroke-linecap="butt"/>
<polygon points="637.90,274.70 635.20,279.91 640.60,279.91" fill="#000"/>
<polygon points="634.70,313.70 632.00,318.91 637.40,318.91" fill="#000"/>
<polygon points="641.20,315.50 638.50,320.71 643.90,320.71" fill="#000"/>
<text x="597.40" y="403.60" font-size="13.5" font-weight="bold" font-style="normal" text-anchor="middle" fill="#000">wt</text>
<text x="612.60" y="403.60" font-size="13.5" font-weight="bold" fill="#000">C3GKO<tspan font-size="9.0" dy="-4.0" dx="0.3">Alb</tspan></text>
<text transform="translate(541.00,329.80) rotate(-90)" font-size="13.33" font-weight="bold" text-anchor="middle">Glucose</text>
<text transform="translate(556.60,329.80) rotate(-90)" font-size="13.33" font-weight="bold" text-anchor="middle">production (A.U.)</text>
</svg>
</body></html>
